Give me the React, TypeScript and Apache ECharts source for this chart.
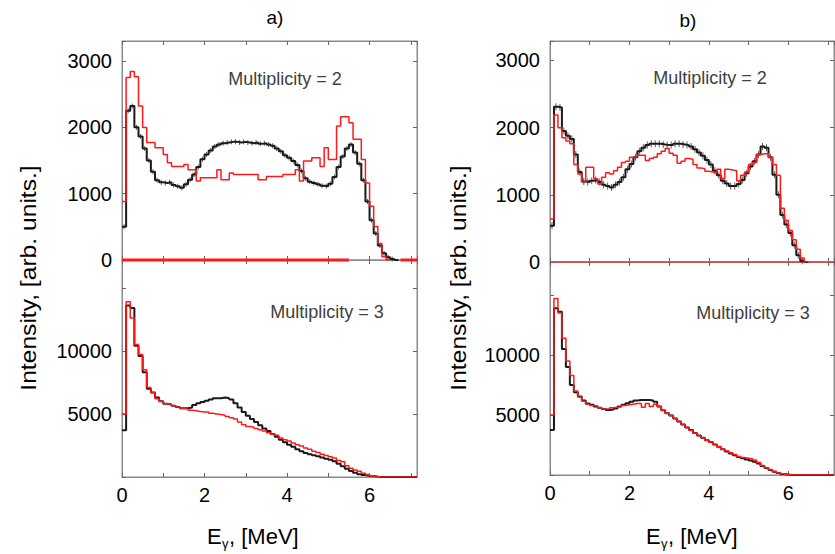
import React, { useEffect, useRef } from "react";
import * as echarts from "echarts";

// ---- data (bin width 0.1 MeV, bins start at 0.0 MeV) ----
const BIN_WIDTH = 0.1;
const X_MAX = 7.15;

// panel a, multiplicity = 2
const aTopBlack = [500, 2250, 2320, 2000, 1860, 1680, 1500, 1330, 1200, 1170, 1160, 1170, 1130, 1110, 1090, 1140, 1210, 1290, 1400, 1520, 1590, 1650, 1710, 1740, 1760, 1770, 1780, 1780, 1770, 1780, 1770, 1760, 1770, 1750, 1760, 1740, 1720, 1680, 1640, 1580, 1540, 1490, 1430, 1340, 1230, 1180, 1160, 1140, 1120, 1110, 1150, 1250, 1400, 1560, 1680, 1740, 1620, 1450, 1200, 880, 600, 400, 220, 100, 40, 15, 0];
const aTopRed = [880, 2750, 2840, 2760, 2320, 1995, 1770, 1770, 1690, 1690, 1590, 1465, 1410, 1410, 1410, 1440, 1360, 1360, 1190, 1240, 1240, 1240, 1240, 1360, 1210, 1210, 1310, 1290, 1290, 1290, 1290, 1290, 1290, 1210, 1210, 1260, 1260, 1260, 1260, 1290, 1290, 1290, 1360, 1190, 1490, 1490, 1540, 1540, 1410, 1690, 1515, 1515, 2020, 2160, 2160, 2070, 1820, 1820, 1515, 1160, 810, 505, 250, 50, 0];
const aTopRedZeroSegments = [[0, 5.5], [6.75, 7.15]];

// panel a, multiplicity = 3
const aBottomBlack = [3700, 13600, 13400, 10400, 9600, 8300, 7000, 6700, 6300, 6000, 5800, 5750, 5650, 5550, 5450, 5450, 5500, 5700, 5850, 5950, 6050, 6150, 6250, 6250, 6300, 6250, 6150, 5850, 5500, 5150, 4850, 4600, 4350, 4100, 3850, 3650, 3400, 3200, 2950, 2750, 2550, 2400, 2200, 2050, 1900, 1800, 1720, 1650, 1550, 1450, 1370, 1250, 1050, 850, 650, 480, 330, 220, 150, 100, 70, 30, 0];
const aBottomRed = [5000, 13900, 12600, 10500, 9700, 8500, 7100, 6700, 6200, 6000, 5800, 5750, 5650, 5550, 5450, 5400, 5300, 5250, 5200, 5150, 5150, 5050, 5000, 4950, 4900, 4800, 4700, 4600, 4350, 4150, 4000, 3950, 3850, 3750, 3650, 3500, 3400, 3300, 3100, 2950, 2850, 2700, 2550, 2450, 2300, 2200, 2050, 1950, 1800, 1700, 1600, 1500, 1300, 1200, 900, 700, 550, 450, 300, 200, 100, 30, 0];

// panel b, multiplicity = 2
const bTopBlack = [540, 2310, 2300, 1950, 1880, 1830, 1600, 1340, 1200, 1190, 1210, 1220, 1190, 1150, 1130, 1110, 1150, 1190, 1260, 1380, 1460, 1560, 1650, 1700, 1740, 1760, 1760, 1760, 1750, 1740, 1740, 1760, 1760, 1750, 1740, 1720, 1680, 1630, 1580, 1520, 1450, 1360, 1290, 1210, 1170, 1130, 1130, 1160, 1220, 1320, 1420, 1500, 1600, 1720, 1700, 1560, 1300, 1000, 700, 560, 430, 250, 100, 20, 0];
const bTopRed = [640, 2190, 2000, 1850, 1800, 1760, 1450, 1310, 1190, 1410, 1410, 1240, 1160, 1260, 1330, 1310, 1360, 1410, 1480, 1500, 1560, 1570, 1590, 1590, 1510, 1540, 1560, 1610, 1650, 1690, 1620, 1590, 1470, 1500, 1540, 1530, 1450, 1400, 1390, 1350, 1340, 1330, 1380, 1240, 1380, 1370, 1360, 1210, 1290, 1340, 1450, 1480, 1600, 1610, 1610, 1560, 1450, 1290, 800, 620, 470, 330, 190, 60, 0];
const bTopRedZeroSegments = [[0, 7.15]];

// panel b, multiplicity = 3
const bBottomBlack = [3750, 13900, 13600, 10500, 9000, 7500, 6900, 6550, 6200, 5950, 5850, 5700, 5600, 5500, 5420, 5450, 5550, 5700, 5850, 5970, 6100, 6200, 6250, 6250, 6250, 6200, 6100, 5700, 5400, 5150, 4950, 4700, 4450, 4200, 3950, 3750, 3500, 3300, 3100, 2900, 2750, 2550, 2350, 2150, 1950, 1800, 1650, 1500, 1400, 1300, 1200, 1100, 950, 750, 580, 420, 280, 160, 80, 40, 10, 0];
const bBottomRed = [5000, 14700, 13500, 11400, 9500, 8300, 7000, 6500, 6150, 5900, 5800, 5750, 5600, 5500, 5500, 5600, 5650, 5700, 5800, 5850, 5900, 5950, 5950, 5650, 5950, 5700, 5900, 5700, 5400, 5150, 4950, 4700, 4450, 4200, 3950, 3700, 3500, 3300, 3100, 2900, 2750, 2550, 2350, 2150, 2000, 1850, 1700, 1550, 1450, 1400, 1350, 1250, 1050, 800, 600, 450, 300, 180, 100, 40, 10, 0];

const yTopMax = [3300, 3290];
const yBottomMax = [17200, 17750];
const panelLabels = ["a)", "b)"];
const multiplicityLabels = ["Multiplicity = 2", "Multiplicity = 3"];
const yTitle = "Intensity, [arb. units.]";

const FONT = "Liberation Sans, Arial, Helvetica, sans-serif";
const BLACK = "#1a1a1a";
const RED = "#ff1a1a";
const FRAME = "#8a8a8a";

function toSteps(values: number[], extendTo?: number): number[][] {
  const pts: number[][] = values.map((v, i) => [Math.round(i * BIN_WIDTH * 100) / 100, v]);
  const end = Math.round(values.length * BIN_WIDTH * 100) / 100;
  pts.push([end, values[values.length - 1]]);
  if (extendTo !== undefined && extendTo > end) pts.push([extendTo, values[values.length - 1]]);
  return pts;
}

function binCenters(values: number[]): number[][] {
  return values
    .map((v, i) => [Math.round((i + 0.5) * BIN_WIDTH * 100) / 100, v])
    .filter((p) => p[1] > 0);
}

export default function App() {
  const ref = useRef<HTMLDivElement>(null);
  useEffect(() => {
    if (!ref.current) return;
    const chart = echarts.init(ref.current, undefined, { renderer: "svg" });

    const grids = [
      { left: 122, top: 41, width: 295, height: 219 },
      { left: 122, top: 260, width: 295, height: 217 },
      { left: 550, top: 41, width: 284, height: 221 },
      { left: 550, top: 262, width: 284, height: 213 },
    ];
    const isBottom = [false, true, false, true];
    const yMax = [yTopMax[0], yBottomMax[0], yTopMax[1], yBottomMax[1]];

    const xAxis: any[] = [];
    const yAxis: any[] = [];
    grids.forEach((_, g) => {
      const tick = { show: true, inside: true, length: 4, lineStyle: { color: "#666", width: 1 } };
      const line = { show: true, onZero: false, lineStyle: { color: FRAME, width: 1 } };
      xAxis.push({
        type: "value", gridIndex: g, min: 0, max: X_MAX, interval: 1, position: "bottom",
        axisLine: line, axisTick: tick, splitLine: { show: false },
        axisLabel: {
          show: isBottom[g], color: "#000", fontSize: 20, fontFamily: FONT, margin: 8,
          showMaxLabel: false,
          formatter: (v: number) => (Number.isInteger(v) && v % 2 === 0 ? String(v) : ""),
        },
      });
      xAxis.push({
        type: "value", gridIndex: g, min: 0, max: X_MAX, interval: 1, position: "top",
        axisLine: line, axisTick: tick, splitLine: { show: false }, axisLabel: { show: false },
      });
      const top = !isBottom[g];
      yAxis.push({
        type: "value", gridIndex: g, min: 0, max: yMax[g], interval: top ? 1000 : 5000, position: "left",
        axisLine: line, axisTick: tick, splitLine: { show: false },
        axisLabel: {
          show: true, color: "#000", fontSize: 20, fontFamily: FONT, margin: 10,
          formatter: (v: number) =>
            top ? (v % 1000 === 0 && v <= 3000 ? String(v) : "") : v === 5000 || v === 10000 ? String(v) : "",
        },
      });
      yAxis.push({
        type: "value", gridIndex: g, min: 0, max: yMax[g], interval: top ? 1000 : 5000, position: "right",
        axisLine: line, axisTick: tick, splitLine: { show: false }, axisLabel: { show: false },
      });
    });

    const stepSeries = (data: any[], g: number, color: string, width: number, name: string) => ({
      type: "line", name, step: "end", data, xAxisIndex: 2 * g, yAxisIndex: 2 * g,
      showSymbol: false, symbol: "none", lineStyle: { color, width }, silent: true,
    });
    const errorBars = (values: number[], g: number, h: number, name: string) => ({
      type: "scatter", name, data: binCenters(values), xAxisIndex: 2 * g, yAxisIndex: 2 * g,
      symbol: "rect", symbolSize: [1, h], itemStyle: { color: "#333" }, silent: true, z: 2,
    });
    const zeroSeries = (segs: number[][], g: number, width: number) =>
      segs.map((s, i) => ({
        type: "line", name: "zero" + g + "_" + i, data: [[s[0], 0], [s[1], 0]], xAxisIndex: 2 * g, yAxisIndex: 2 * g,
        symbol: "none", clip: false, lineStyle: { color: RED, width }, silent: true, z: 3,
      }));

    const series: any[] = [
      ...zeroSeries(aTopRedZeroSegments, 0, 3),
      stepSeries(toSteps(aTopBlack), 0, BLACK, 2, "aTopBlack"),
      errorBars(aTopBlack, 0, 5, "aTopBlackErr"),
      stepSeries(toSteps(aTopRed), 0, RED, 1.5, "aTopRed"),
      stepSeries(toSteps(aBottomBlack, X_MAX), 1, BLACK, 2, "aBottomBlack"),
      stepSeries(toSteps(aBottomRed, X_MAX), 1, RED, 1.5, "aBottomRed"),
      ...zeroSeries(bTopRedZeroSegments, 2, 1.2),
      stepSeries(toSteps(bTopBlack), 2, BLACK, 2, "bTopBlack"),
      errorBars(bTopBlack, 2, 7, "bTopBlackErr"),
      stepSeries(toSteps(bTopRed), 2, RED, 1.5, "bTopRed"),
      stepSeries(toSteps(bBottomBlack, X_MAX), 3, BLACK, 2, "bBottomBlack"),
      stepSeries(toSteps(bBottomRed, X_MAX), 3, RED, 1.5, "bBottomRed"),
    ];

    const txt = (text: string, x: number, y: number, size: number, color = "#000", extra: any = {}) => ({
      type: "text", x, y, silent: true, ...extra,
      style: { text, fill: color, fontSize: size, fontFamily: FONT, align: extra.align || "center", verticalAlign: "middle" },
    });

    const graphic: any[] = [
      txt(panelLabels[0], 275, 17, 19),
      txt(panelLabels[1], 688, 20, 19),
      txt(multiplicityLabels[0], 285, 79, 18, "#404040"),
      txt(multiplicityLabels[1], 327, 312, 18, "#404040"),
      txt(multiplicityLabels[0], 710, 78, 18, "#404040"),
      txt(multiplicityLabels[1], 753, 313, 18, "#404040"),
      txt(yTitle, 28, 278, 22, "#000", { rotation: Math.PI / 2, scaleX: 1.12 }),
      txt(yTitle, 458, 278, 22, "#000", { rotation: Math.PI / 2, scaleX: 1.12 }),
      txt("E", 207, 536, 22, "#000", { align: "left" }),
      txt("γ", 222, 543, 13, "#000", { align: "left" }),
      txt(", [MeV]", 229, 536, 22, "#000", { align: "left" }),
      txt("E", 646, 536, 22, "#000", { align: "left" }),
      txt("γ", 661, 543, 13, "#000", { align: "left" }),
      txt(", [MeV]", 668, 536, 22, "#000", { align: "left" }),
    ];

    chart.setOption({
      animation: false,
      backgroundColor: "#fff",
      grid: grids.map((g) => ({ ...g, show: true, borderColor: FRAME, borderWidth: 1, backgroundColor: "transparent", containLabel: false })),
      xAxis,
      yAxis,
      series,
      graphic,
    });
    return () => chart.dispose();
  }, []);
  return <div ref={ref} style={{ position: "fixed", left: 0, top: 0, width: 835, height: 554 }} />;
}
